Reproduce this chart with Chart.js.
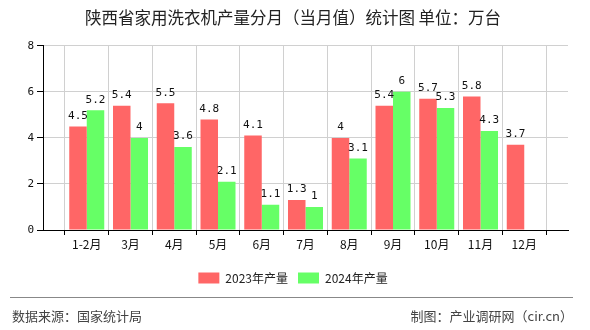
<!DOCTYPE html>
<html>
<head>
<meta charset="utf-8">
<script src="https://cdn.jsdelivr.net/npm/chart.js@4/dist/chart.umd.min.js"></script>
<style>
  html, body { margin: 0; padding: 0; background: #fff; }
  #wrap { position: relative; width: 590px; height: 330px; overflow: hidden; }
  #c { position: absolute; left: 0; top: 0; }
  #foot-line { position: absolute; left: 10px; top: 297px; width: 563px; height: 0; border-top: 1px solid #888; }
  .foot { position: absolute; top: 307px; font: 13px "Noto Sans CJK SC", sans-serif; color: #444; line-height: 18px; white-space: nowrap; }
  #src { left: 12px; }
  #by { right: 17px; }
</style>
</head>
<body>
<div id="wrap">
  <canvas id="c" width="590" height="330"></canvas>
  <div id="foot-line"></div>
  <div class="foot" id="src">数据来源：国家统计局</div>
  <div class="foot" id="by">制图：产业调研网（cir.cn）</div>
</div>
<script>
const categories = ['1-2月', '3月', '4月', '5月', '6月', '7月', '8月', '9月', '10月', '11月', '12月'];
const output2023 = [4.5, 5.4, 5.5, 4.8, 4.1, 1.3, 4, 5.4, 5.7, 5.8, 3.7];
const output2024 = [5.2, 4, 3.6, 2.1, 1.1, 1, 3.1, 6, 5.3, 4.3, null];
const yTicks = [0, 2, 4, 6, 8];
const seriesNames = ['2023年产量', '2024年产量'];
const titleText = '陕西省家用洗衣机产量分月（当月值）统计图 单位：万台';

const labels = [''].concat(categories, ['']);
const pad = arr => [null].concat(arr, [null]);

const valueLabels = {
  id: 'valueLabels',
  afterDatasetsDraw(chart) {
    const ctx = chart.ctx;
    ctx.save();
    ctx.font = '11px "DejaVu Sans Mono", monospace';
    ctx.fillStyle = '#111';
    ctx.textAlign = 'center';
    ctx.textBaseline = 'bottom';
    chart.data.datasets.forEach((ds, i) => {
      const meta = chart.getDatasetMeta(i);
      meta.data.forEach((bar, j) => {
        const v = ds.data[j];
        if (v == null) return;
        ctx.fillText(String(v), bar.x, bar.y - 5);
      });
    });
    ctx.restore();
  }
};

new Chart(document.getElementById('c'), {
  type: 'bar',
  data: {
    labels: labels,
    datasets: [
      { label: seriesNames[0], data: pad(output2023), backgroundColor: '#FF6666', borderWidth: 0 },
      { label: seriesNames[1], data: pad(output2024), backgroundColor: '#66FF66', borderWidth: 0 }
    ]
  },
  options: {
    responsive: false,
    animation: false,
    devicePixelRatio: 1,
    layout: { padding: { left: 18, right: 22, top: 0, bottom: 36 } },
    datasets: { bar: { categoryPercentage: 0.8, barPercentage: 1.0 } },
    plugins: {
      title: {
        display: true,
        text: titleText,
        color: '#222',
        font: { family: '"Noto Sans CJK SC", sans-serif', size: 16.5, weight: 'normal' },
        padding: { top: 8, bottom: 18 }
      },
      legend: {
        position: 'bottom',
        labels: {
          boxWidth: 21, boxHeight: 11, padding: 10,
          color: '#222',
          font: { family: '"Noto Sans CJK SC", sans-serif', size: 12 }
        }
      },
      tooltip: { enabled: false }
    },
    scales: {
      x: {
        type: 'category',
        offset: false,
        grid: { color: '#d0d0d0', tickColor: '#000', tickLength: 5, drawOnChartArea: true },
        border: { color: '#000', width: 1 },
        ticks: {
          color: '#111', padding: 2, maxRotation: 0, autoSkip: false,
          font: { family: '"Noto Sans CJK SC", sans-serif', size: 12 }
        },
        afterFit(scale) { scale.height = 32; }
      },
      y: {
        min: 0, max: 8,
        afterBuildTicks(scale) { scale.ticks = yTicks.map(v => ({ value: v })); },
        grid: { color: '#d0d0d0', tickColor: '#000', tickLength: 6 },
        border: { color: '#000', width: 1 },
        ticks: {
          color: '#111', padding: 3,
          font: { family: '"DejaVu Sans Mono", monospace', size: 11 }
        },
        afterFit(scale) { scale.width = 25; }
      }
    }
  },
  plugins: [valueLabels]
});
</script>
</body>
</html>
